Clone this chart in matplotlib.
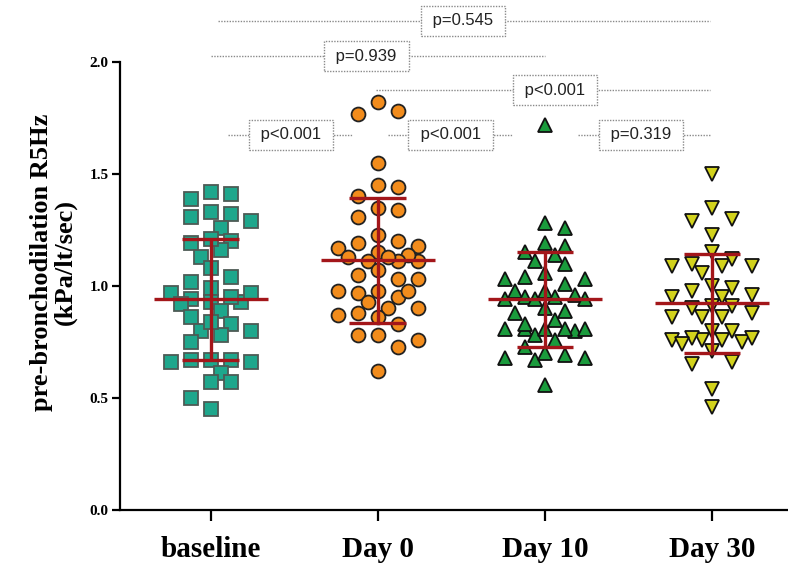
import numpy as np
import matplotlib
matplotlib.use("Agg")
import matplotlib.pyplot as plt

# values (kPa/lt/sec)
groups = ["baseline", "Day 0", "Day 10", "Day 30"]

baseline = [1.42, 1.41, 1.39, 1.33, 1.31, 1.32, 1.29, 1.26, 1.20, 1.16, 1.19,
            1.21, 1.13, 1.08, 1.02, 1.04, 0.99, 0.97, 0.94, 0.93, 0.97, 0.95,
            0.92, 0.93, 0.89, 0.86, 0.83, 0.80, 0.78, 0.80, 0.84, 0.75, 0.67,
            0.67, 0.66, 0.66, 0.67, 0.61, 0.57, 0.57, 0.50, 0.45]
day0 = [1.82, 1.77, 1.78, 1.55, 1.44, 1.45, 1.40, 1.35, 1.34, 1.31, 1.23,
        1.20, 1.18, 1.19, 1.17, 1.15, 1.11, 1.14, 1.11, 1.13, 1.11, 1.13,
        1.07, 1.05, 1.03, 1.03, 0.98, 0.95, 0.98, 0.97, 0.98, 0.93, 0.90,
        0.90, 0.87, 0.86, 0.88, 0.83, 0.78, 0.76, 0.78, 0.73, 0.62]
day10 = [1.72, 1.28, 1.26, 1.19, 1.18, 1.14, 1.15, 1.10, 1.11, 1.03, 1.04,
         1.06, 1.03, 1.01, 0.98, 0.98, 0.96, 0.94, 0.94, 0.95, 0.95, 0.94,
         0.89, 0.90, 0.88, 0.81, 0.81, 0.80, 0.83, 0.85, 0.81, 0.78, 0.81,
         0.81, 0.73, 0.76, 0.69, 0.68, 0.67, 0.68, 0.70, 0.56]
day30 = [1.50, 1.35, 1.30, 1.29, 1.23, 1.15, 1.09, 1.09, 1.12, 1.09, 1.10,
         1.06, 0.98, 0.95, 1.00, 0.99, 0.95, 0.96, 0.91, 0.91, 0.90, 0.88,
         0.86, 0.86, 0.86, 0.80, 0.80, 0.76, 0.76, 0.77, 0.75, 0.77, 0.74,
         0.76, 0.71, 0.66, 0.65, 0.54, 0.46]

means = [0.94, 1.115, 0.94, 0.923]
sds = [0.27, 0.28, 0.21, 0.22]

p_labels = ["p<0.001", "p<0.001", "p=0.319", "p<0.001", "p=0.939", "p=0.545"]
# bracket line start / end (category units), label x, level
br_x0 = [0.10, 1.06, 2.20, 0.99, 0.0, 0.04]
br_x1 = [0.85, 1.80, 2.99, 2.99, 2.0, 2.99]
br_lx = [0.48, 1.435, 2.575, 2.06, 0.93, 1.51]
br_y = [1.675, 1.675, 1.675, 1.875, 2.025, 2.185]

series = [baseline, day0, day10, day30]
markers = ["s", "o", "^", "v"]
faces = ["#1ea78c", "#f28c1c", "#1a9b3c", "#d2d21c"]
edges = ["#4d5b55", "#222222", "#111111", "#111111"]
sizes = [10, 10, 10, 10]


def swarm(vals, step=0.06, dv0=0.08, dv1=0.04, kmax=4):
    """Prism-like column layout: nearest free slot to the centre,
    or the least crowded one when the row is full."""
    vals = np.asarray(vals)
    offs = np.zeros(len(vals))
    placed = []
    slots = [0, 2, -2, 1, -1, 4, -4, 3, -3, 5, -5, 6, -6][: 2 * kmax + 1]
    for i in np.argsort(vals)[::-1]:
        v = vals[i]
        best, best_cost = 0, None
        for k in slots:
            cost = 0.0
            for pk, pv in placed:
                d = abs(k - pk)
                if d == 0 and abs(v - pv) < dv0:
                    cost += dv0 - abs(v - pv)
                elif d == 1 and abs(v - pv) < dv1:
                    cost += dv1 - abs(v - pv)
            if best_cost is None or cost < best_cost - 1e-9:
                best, best_cost = k, cost
            if cost == 0:
                break
        placed.append((best, v))
        offs[i] = best * step
    return offs


fig = plt.figure(figsize=(7.88, 5.65), dpi=100)
ax = fig.add_axes([0.152, 0.0973, 0.848, 0.892])

for i, vals in enumerate(series):
    x = i + swarm(vals)
    ax.plot(x, vals, linestyle="none", marker=markers[i], ms=sizes[i],
            mfc=faces[i], mec=edges[i], mew=1.3, zorder=3)

red = "#a3161a"
for i, (m, s) in enumerate(zip(means, sds)):
    ax.hlines(m, i - 0.34, i + 0.34, color=red, lw=2.4, zorder=4)
    ax.hlines([m - s, m + s], i - 0.17, i + 0.17, color=red, lw=2.4, zorder=4)
    ax.vlines(i, m - s, m + s, color=red, lw=2.4, zorder=4)

for lab, x0, x1, lx, y in zip(p_labels, br_x0, br_x1, br_lx, br_y):
    ax.plot([x0, x1], [y, y], color="#8a8a8a", lw=1.0, ls=(0, (1, 1)),
            zorder=1, clip_on=False)
    ax.text(lx, y, f" {lab} ", ha="center", va="center", fontsize=12,
            family="Liberation Sans", color="#222222", zorder=5,
            bbox=dict(boxstyle="square,pad=0.45", fc="white", ec="#8a8a8a",
                      lw=1.0, ls=(0, (1, 1))))

ax.set_xlim(-0.545, 3.455)
ax.set_ylim(0, 2.25)
ax.spines["top"].set_visible(False)
ax.spines["right"].set_visible(False)
ax.spines["left"].set_bounds(0, 2.0)
for side in ["left", "bottom"]:
    ax.spines[side].set_linewidth(1.6)

ax.set_yticks([0.0, 0.5, 1.0, 1.5, 2.0])
ax.set_yticklabels(["0.0", "0.5", "1.0", "1.5", "2.0"], family="Liberation Serif",
                   fontweight="bold", fontsize=11)
ax.set_xticks(range(len(groups)))
ax.set_xticklabels(groups, family="Liberation Serif", fontweight="bold", fontsize=21)
ax.tick_params(axis="y", length=6, width=1.6, pad=2)
ax.tick_params(axis="x", length=8, width=1.6, pad=11)

fig.text(0.068, 0.536, "pre-bronchodilation R5Hz\n(kPa/lt/sec)", rotation=90,
         ha="center", va="center", family="Liberation Serif", fontweight="bold",
         fontsize=19, linespacing=1.0)

fig.savefig("out.png", dpi=100)
